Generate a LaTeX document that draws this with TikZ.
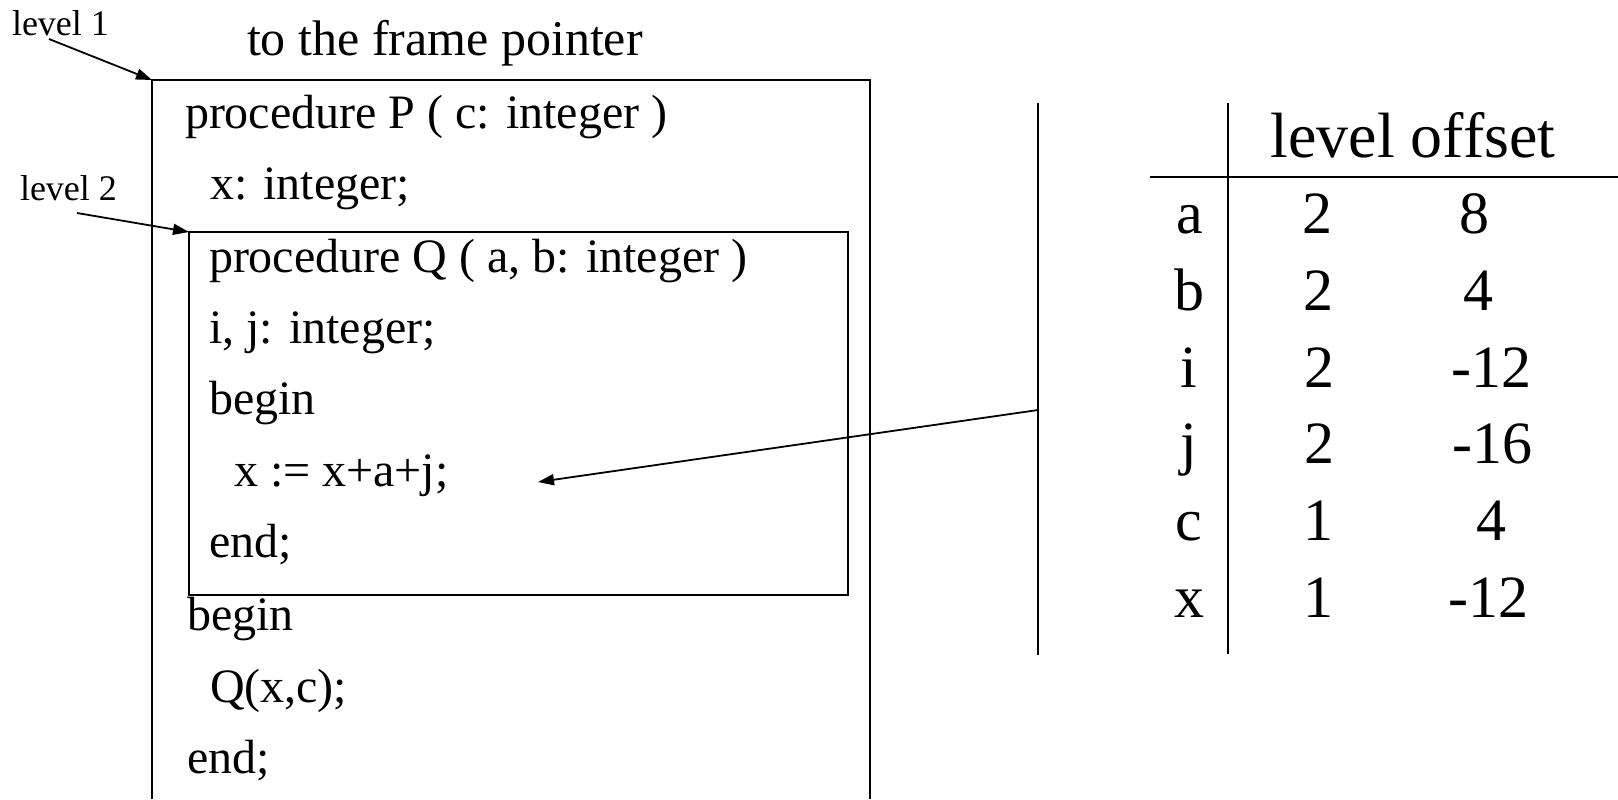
\documentclass[tikz,border=0pt]{standalone}
\usepackage{fontspec}
\setmainfont{Liberation Serif}
\usetikzlibrary{arrows.meta, positioning}

\begin{document}
\begin{tikzpicture}[x=0.5pt, y=-0.5pt,
  every node/.style={inner sep=0pt, outer sep=0pt},
  >={Triangle[length=8pt, width=5.5pt]},
  arrow/.style={->, line width=0.9pt},
  frame/.style={line width=1pt},
  code/.style={anchor=base west, font=\fontsize{24}{28}\selectfont},
  cell/.style={anchor=base, font=\fontsize{30}{36}\selectfont},
  tag/.style={anchor=base west, font=\fontsize{18}{21}\selectfont}
]
\useasboundingbox (0,0) rectangle (1618,799);

% labels and title
\node[tag] (lvlone) at (12,35) {level 1};
\node[tag] (lvltwo) at (20,200) {level 2};
\node[anchor=base west, font=\fontsize{25}{30}\selectfont] (fp) at (247,55) {to the frame pointer};

% frame of P (open at the bottom)
\coordinate (Pbl) at (152,799);
\coordinate (Ptl) at (152,80);
\coordinate (Ptr) at (870,80);
\coordinate (Pbr) at (870,799);
\draw[frame] (Pbl) -- (Ptl) -- (Ptr) -- (Pbr);

% frame of Q
\coordinate (Qtl) at (189,232);
\coordinate (Qbr) at (848,595);
\draw[frame] (Qtl) rectangle (Qbr);

% level arrows
\coordinate (lvlonefrom) at (49,39);
\coordinate (lvltwofrom) at (77,213);
\draw[arrow] (lvlonefrom) -- (Ptl);
\draw[arrow] (lvltwofrom) -- (Qtl);

% code of P and Q
\node[code] (procp) at (185,128) {procedure P ( c: integer )};
\node[code] (declx) at (210,199) {x: integer;};
\node[code] (procq) at (209,272) {procedure Q ( a, b: integer )};
\node[code] (declij) at (209,343) {i, j: integer;};
\node[code] (qbegin) at (209,414) {begin};
\node[code] (qassign) at (234,486) {x := x+a+j;};
\node[code] (qend) at (209,557) {end;};
\node[code] (pbegin) at (187,630) {begin};
\node[code] (pcall) at (210,702) {Q(x,c);};
\node[code] (pend) at (187,773) {end;};

% symbol table
\coordinate (vtop) at (1038,103);
\coordinate (vbot) at (1038,655);
\coordinate (ttop) at (1228,103);
\coordinate (tbot) at (1228,654);
\coordinate (hleft) at (1150,177);
\coordinate (hright) at (1618,177);
\draw[frame] (vtop) -- (vbot);
\draw[frame] (ttop) -- (tbot);
\draw[frame] (hleft) -- (hright);

\node[cell, font=\fontsize{32}{38}\selectfont] (head) at (1413,157) {level offset};
\node[cell] (na) at (1190,233) {a};
\node[cell] (la) at (1317,233) {2};
\node[cell] (oa) at (1474,233) {8};
\node[cell] (nb) at (1189,310) {b};
\node[cell] (lb) at (1318,310) {2};
\node[cell] (ob) at (1478,310) {4};
\node[cell] (ni) at (1189,387) {i};
\node[cell] (li) at (1319,387) {2};
\node[cell] (oi) at (1491,387) {-12};
\node[cell] (nj) at (1189,463) {j};
\node[cell] (lj) at (1319,463) {2};
\node[cell] (oj) at (1492,463) {-16};
\node[cell] (nc) at (1189,540) {c};
\node[cell] (lc) at (1318,540) {1};
\node[cell] (oc) at (1491,540) {4};
\node[cell] (nx) at (1189,617) {x};
\node[cell] (lx) at (1318,617) {1};
\node[cell] (ox) at (1488,617) {-12};

% access of x
\coordinate (tabfrom) at (1038,410);
\coordinate (assignto) at (538,482);
\draw[arrow] (tabfrom) -- (assignto);
\end{tikzpicture}
\end{document}
